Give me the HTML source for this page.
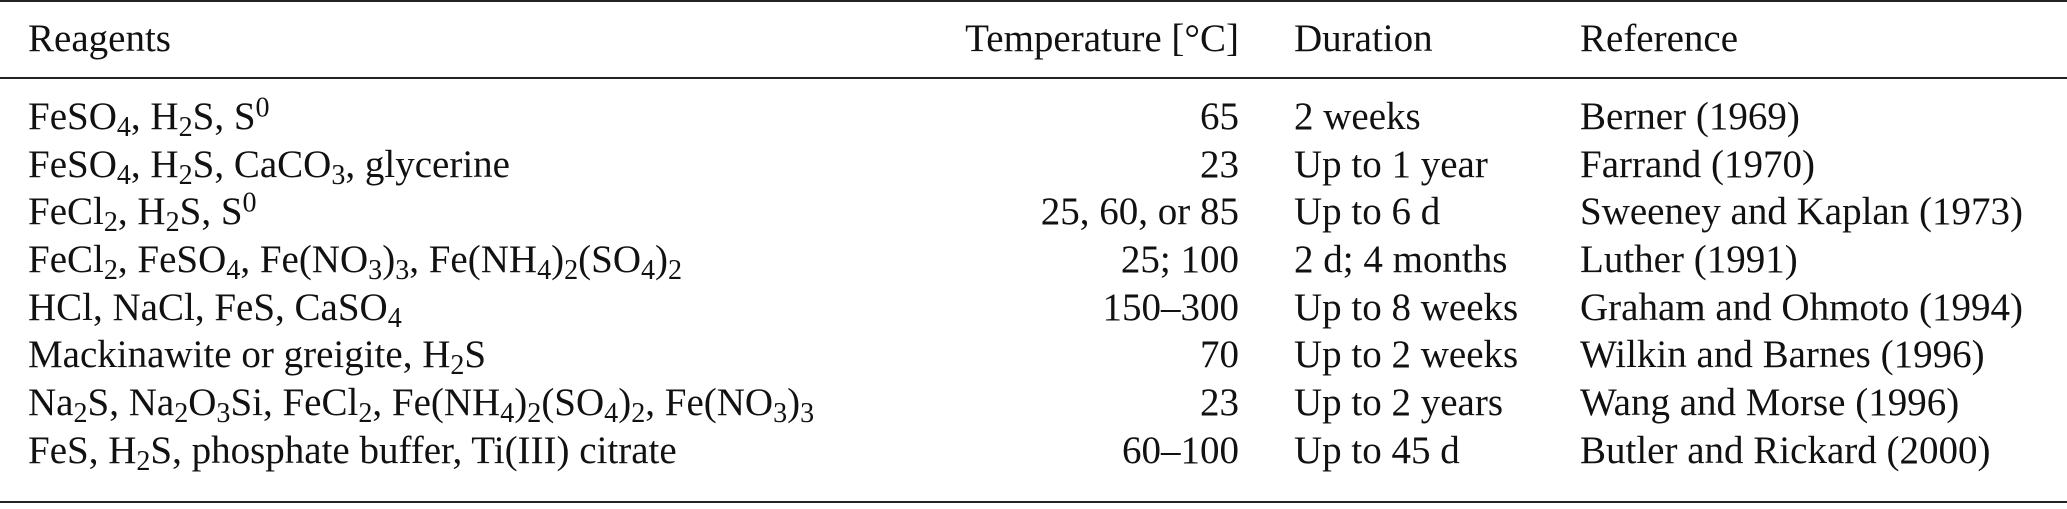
<!DOCTYPE html>
<html><head><meta charset="utf-8"><style>
html,body{margin:0;padding:0;background:#fff;}
body{width:2067px;height:509px;position:relative;overflow:hidden;font-family:"Liberation Serif",serif;font-size:39px;color:#111;}
.r{position:absolute;left:0;width:2067px;background:#222;}
.t{position:absolute;white-space:nowrap;line-height:normal;}
.a{left:28px}
.b{right:828px;text-align:right}
.c{left:1294px}
.d{left:1580px}
sub{font-size:0.72em;vertical-align:-0.25em;line-height:0}
sup{font-size:0.72em;vertical-align:0.45em;line-height:0}
</style></head><body>
<div class="r" style="top:0;height:2px"></div>
<div class="r" style="top:77px;height:2px"></div>
<div class="r" style="top:501px;height:2px"></div>

<div class="t a" style="top:16px">Reagents</div>
<div class="t b" style="top:16px">Temperature [°C]</div>
<div class="t c" style="top:16px">Duration</div>
<div class="t d" style="top:16px">Reference</div>

<div class="t a" style="top:94px">FeSO<sub>4</sub>, H<sub>2</sub>S, S<sup>0</sup></div>
<div class="t b" style="top:94px">65</div>
<div class="t c" style="top:94px">2 weeks</div>
<div class="t d" style="top:94px">Berner (1969)</div>

<div class="t a" style="top:142px">FeSO<sub>4</sub>, H<sub>2</sub>S, CaCO<sub>3</sub>, glycerine</div>
<div class="t b" style="top:142px">23</div>
<div class="t c" style="top:142px">Up to 1 year</div>
<div class="t d" style="top:142px">Farrand (1970)</div>

<div class="t a" style="top:189px">FeCl<sub>2</sub>, H<sub>2</sub>S, S<sup>0</sup></div>
<div class="t b" style="top:189px">25, 60, or 85</div>
<div class="t c" style="top:189px">Up to 6 d</div>
<div class="t d" style="top:189px">Sweeney and Kaplan (1973)</div>

<div class="t a" style="top:237px">FeCl<sub>2</sub>, FeSO<sub>4</sub>, Fe(NO<sub>3</sub>)<sub>3</sub>, Fe(NH<sub>4</sub>)<sub>2</sub>(SO<sub>4</sub>)<sub>2</sub></div>
<div class="t b" style="top:237px">25; 100</div>
<div class="t c" style="top:237px">2 d; 4 months</div>
<div class="t d" style="top:237px">Luther (1991)</div>

<div class="t a" style="top:285px">HCl, NaCl, FeS, CaSO<sub>4</sub></div>
<div class="t b" style="top:285px">150–300</div>
<div class="t c" style="top:285px">Up to 8 weeks</div>
<div class="t d" style="top:285px">Graham and Ohmoto (1994)</div>

<div class="t a" style="top:332px">Mackinawite or greigite, H<sub>2</sub>S</div>
<div class="t b" style="top:332px">70</div>
<div class="t c" style="top:332px">Up to 2 weeks</div>
<div class="t d" style="top:332px">Wilkin and Barnes (1996)</div>

<div class="t a" style="top:380px">Na<sub>2</sub>S, Na<sub>2</sub>O<sub>3</sub>Si, FeCl<sub>2</sub>, Fe(NH<sub>4</sub>)<sub>2</sub>(SO<sub>4</sub>)<sub>2</sub>, Fe(NO<sub>3</sub>)<sub>3</sub></div>
<div class="t b" style="top:380px">23</div>
<div class="t c" style="top:380px">Up to 2 years</div>
<div class="t d" style="top:380px">Wang and Morse (1996)</div>

<div class="t a" style="top:428px">FeS, H<sub>2</sub>S, phosphate buffer, Ti(III) citrate</div>
<div class="t b" style="top:428px">60–100</div>
<div class="t c" style="top:428px">Up to 45 d</div>
<div class="t d" style="top:428px">Butler and Rickard (2000)</div>
</body></html>
